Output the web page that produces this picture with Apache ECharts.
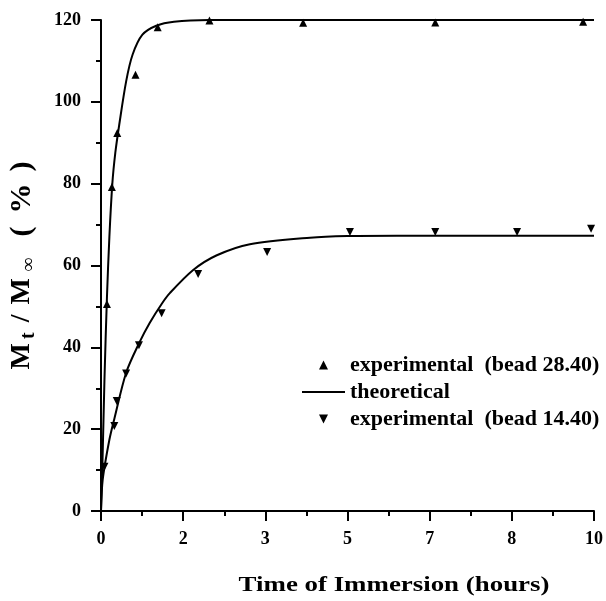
<!DOCTYPE html>
<html>
<head>
<meta charset="utf-8">
<script src="https://cdn.jsdelivr.net/npm/echarts@6/dist/echarts.min.js"></script>
<style>html,body{margin:0;padding:0;background:#fff;}#c{width:606px;height:601px;}</style>
</head>
<body>
<div id="c"></div>
<script>
// Experimental data, bead 28.40 (triangles up): [hours, %]
const expBead2840 = [[0.12,50.6],[0.22,79.2],[0.33,92.4],[0.70,106.6],[1.15,118.2],[2.2,119.9],[4.1,119.3],[6.78,119.4],[9.78,119.6]];
// Experimental data, bead 14.40 (triangles down)
const expBead1440 = [[0.07,10.8],[0.27,20.8],[0.32,26.9],[0.51,33.6],[0.77,40.5],[1.23,48.3],[1.97,57.9],[3.37,63.3],[5.05,68.2],[6.78,68.2],[8.44,68.2],[9.94,69.0]];
// Theoretical curves
const theoryUpper = [[0,0],[0.03,12],[0.07,32],[0.12,52],[0.17,67],[0.23,80],[0.29,87.5],[0.37,94.4],[0.51,105],[0.64,111.5],[0.84,116.4],[1.12,118.6],[1.48,119.6],[2.2,120],[4,120],[10,120]];
const theoryLower = [[0,0],[0.034,7.6],[0.17,17.4],[0.27,22.5],[0.51,33.8],[0.78,41.2],[0.99,46.0],[1.23,50.6],[1.40,53.3],[1.87,58.9],[2.35,62.5],[3.02,65.2],[4.24,66.8],[5,67.2],[6,67.3],[10,67.3]];
// Axis settings
const xTickInterval = 10 / 6;
const yTicks = [0, 20, 40, 60, 80, 100, 120];

const FONT = 'Liberation Serif';
const downTri = 'path://M0,0 L10,0 L5,10 Z';
const upTri = 'path://M5,0 L10,10 L0,10 Z';
const lineIcon = 'path://M0,0 L40,0 L40,2 L0,2 Z';

function tok(size, padRight, sub) {
  return {fontSize: size, fontFamily: FONT, fontWeight: 'bold', color: '#000',
    lineHeight: sub ? size : 34, verticalAlign: sub ? 'bottom' : 'middle', padding: [0, padRight, 0, 0]};
}

const chart = echarts.init(document.getElementById('c'), null, {renderer: 'canvas'});
chart.setOption({
  backgroundColor: '#fff',
  animation: false,
  grid: {left: 101, right: 12, top: 20, bottom: 90, containLabel: false, outerBoundsMode: 'none'},
  xAxis: {
    type: 'value', min: 0, max: 10, interval: xTickInterval,
    axisLine: {show: true, lineStyle: {color: '#000', width: 2}},
    axisTick: {show: true, length: 10, lineStyle: {color: '#000', width: 2}},
    minorTick: {show: true, splitNumber: 2, length: 5, lineStyle: {color: '#000', width: 2}},
    splitLine: {show: false},
    axisLabel: {margin: 19, color: '#000', fontFamily: FONT, fontWeight: 'bold', fontSize: 18,
      formatter: v => String(Math.round(v))}
  },
  yAxis: {
    type: 'value', min: yTicks[0], max: yTicks[yTicks.length-1], interval: 20,
    axisLine: {show: true, lineStyle: {color: '#000', width: 2}},
    axisTick: {show: true, length: 10, lineStyle: {color: '#000', width: 2}},
    minorTick: {show: true, splitNumber: 2, length: 5, lineStyle: {color: '#000', width: 2}},
    splitLine: {show: false},
    axisLabel: {margin: 20, color: '#000', fontFamily: FONT, fontWeight: 'bold', fontSize: 18},
    name: '{a|M}{b|t}{c|/}{d|M}{e|∞}{f|(}{g|%}{h|)}',
    nameLocation: 'middle', nameRotate: 90, nameGap: 62,
    nameTextStyle: {
      color: '#000', fontFamily: FONT, fontWeight: 'bold',
      rich: {
        a: tok(28, 4, false),
        b: tok(20, 10, true),
        c: tok(28, 10, false),
        d: tok(28, 7, false),
        e: tok(19, 21, true),
        f: tok(30, 13, false),
        g: tok(30, 12, false),
        h: tok(30, 0, false)
      }
    }
  },
  legend: {
    orient: 'vertical', left: 297, top: 349,
    itemWidth: 43, itemHeight: 9, itemGap: 5,
    textStyle: {color: '#000', fontFamily: FONT, fontWeight: 'bold', fontSize: 22, lineHeight: 22},
    data: [
      {name: 'experimental  (bead 28.40)', icon: upTri},
      {name: 'theoretical', icon: lineIcon},
      {name: 'experimental  (bead 14.40)', icon: downTri}
    ]
  },
  graphic: [{
    type: 'text', x: 394, y: 586, scaleX: 1.28, scaleY: 1,
    style: {text: 'Time of Immersion (hours)', fill: '#000', font: 'bold 21px "Liberation Serif"', align: 'center', verticalAlign: 'middle'}
  }],
  series: [
    {name: 'theoretical', type: 'line', data: theoryUpper, smooth: 0.3, showSymbol: false, symbol: 'none',
      lineStyle: {color: '#000', width: 2}, itemStyle: {color: '#000'}, z: 2},
    {name: 'theoretical', type: 'line', data: theoryLower, smooth: 0.3, showSymbol: false, symbol: 'none',
      lineStyle: {color: '#000', width: 2}, itemStyle: {color: '#000'}, z: 2},
    {name: 'experimental  (bead 28.40)', type: 'scatter', data: expBead2840, symbol: upTri, symbolSize: [8, 8],
      itemStyle: {color: '#000', opacity: 1}, z: 3},
    {name: 'experimental  (bead 14.40)', type: 'scatter', data: expBead1440, symbol: downTri, symbolSize: [8, 8],
      itemStyle: {color: '#000', opacity: 1}, z: 3}
  ]
});
</script>
</body>
</html>
